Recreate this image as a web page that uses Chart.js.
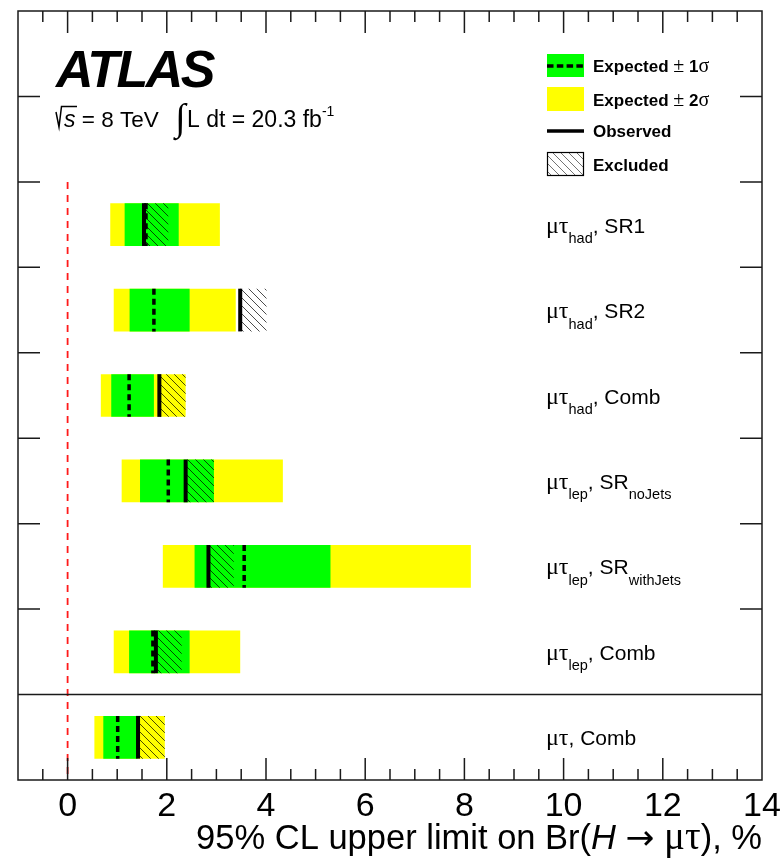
<!DOCTYPE html>
<html>
<head>
<meta charset="utf-8">
<script src="https://cdn.jsdelivr.net/npm/chart.js@4/dist/chart.umd.min.js"></script>
<style>
  html, body { margin: 0; padding: 0; background: #fff; }
  canvas { display: block; }
</style>
</head>
<body>
<canvas id="limits" width="782" height="863"></canvas>
<script>
/* ----- limits on Br(H -> mu tau), in % ----- */
const categories = [
  'μτ_{had}, SR1',
  'μτ_{had}, SR2',
  'μτ_{had}, Comb',
  'μτ_{lep}, SR_{noJets}',
  'μτ_{lep}, SR_{withJets}',
  'μτ_{lep}, Comb',
  'μτ, Comb'
];
const twoSigmaLow  = [0.86, 0.93, 0.67, 1.09, 1.92, 0.93, 0.54];
const twoSigmaHigh = [3.07, 3.39, 2.38, 4.34, 8.13, 3.48, 1.96];
const oneSigmaLow  = [1.15, 1.25, 0.88, 1.46, 2.56, 1.24, 0.72];
const oneSigmaHigh = [2.24, 2.46, 1.74, 2.95, 5.30, 2.46, 1.41];
const expected     = [1.58, 1.74, 1.24, 2.03, 3.56, 1.72, 1.01];
const observed     = [1.54, 3.48, 1.85, 2.38, 2.84, 1.78, 1.42];
const excludedEnd  = [2.03, 4.01, 2.38, 2.95, 3.35, 2.30, 1.96];
const xTickLabels  = [0, 2, 4, 6, 8, 10, 12, 14];
const xMin = -1, xMax = 14;

const SANS = '"Liberation Sans", Arial, Helvetica, sans-serif';
const SYMB = '"Liberation Serif", "DejaVu Serif", serif';
const ARROW = '"DejaVu Sans", sans-serif';

// two empty slots on top leave room for the ATLAS label and legend
const rows = ['', '', ...categories];
const lead = arr => [null, null, ...arr];
const span = (lo, hi) => lo.map((v, i) => [v, hi[i]]);

/* ----- hatch used for the excluded side ----- */
function hatchPattern(alpha) {
  const c = document.createElement('canvas');
  c.width = c.height = 8;
  const g = c.getContext('2d');
  g.strokeStyle = `rgba(0,0,0,${alpha})`;
  g.lineWidth = 1;
  g.beginPath();
  g.moveTo(-1, -1); g.lineTo(9, 9);
  g.moveTo(-1, 7); g.lineTo(1, 9);
  g.moveTo(7, -1); g.lineTo(9, 1);
  g.stroke();
  return g.createPattern(c, 'repeat');
}
const ctx = document.getElementById('limits').getContext('2d');
const hatch = hatchPattern(0.7);

/* ----- text with _{sub} / ^{sup} and greek symbols ----- */
function runsOf(str) {
  const runs = [];
  const re = /([_^])\{([^}]*)\}/g;
  let last = 0, m;
  while ((m = re.exec(str))) {
    if (m.index > last) runs.push({ text: str.slice(last, m.index), shift: 0 });
    runs.push({ text: m[2], shift: m[1] === '_' ? 1 : -1 });
    last = re.lastIndex;
  }
  if (last < str.length) runs.push({ text: str.slice(last), shift: 0 });
  return runs;
}
function fontFor(ch, size, o) {
  if (ch === '→') return `${size}px ${ARROW}`;
  if (/[μτσ±]/.test(ch)) return `${Math.round(size * (o.greekScale || 1.1))}px ${SYMB}`;
  const it = o.italic && o.italic.includes(ch) ? 'italic ' : '';
  return `${it}${o.weight || 'normal'} ${size}px ${SANS}`;
}
function richText(c, str, x, y, o, dry) {
  let cx = x;
  for (const run of runsOf(str)) {
    const size = run.shift ? o.subSize : o.size;
    const dy = run.shift > 0 ? o.subDrop : run.shift < 0 ? -o.supRise : 0;
    // group consecutive chars sharing a font
    let chunk = '', font = null;
    const flush = () => {
      if (!chunk) return;
      c.font = font;
      if (!dry) c.fillText(chunk, cx, y + dy);
      cx += c.measureText(chunk).width;
      chunk = '';
    };
    for (const ch of run.text) {
      const f = fontFor(ch, size, o);
      if (f !== font) { flush(); font = f; }
      chunk += ch;
    }
    flush();
  }
  return cx - x;
}

/* ----- frame, ticks, labels, legend ----- */
const decor = {
  id: 'decor',
  beforeDatasetsDraw(chart) {
    const c = chart.ctx, a = chart.chartArea;
    const xs = chart.scales.x, ys = chart.scales.y;
    const half = (ys.getPixelForValue(1) - ys.getPixelForValue(0)) / 2;
    const x0 = xs.getPixelForValue(0);
    c.save();
    c.strokeStyle = '#ff1a1a';
    c.lineWidth = 1.8;
    c.setLineDash([7, 6]);
    c.beginPath();
    c.moveTo(x0, ys.getPixelForValue(2) - half);
    c.lineTo(x0, a.bottom);
    c.stroke();
    c.restore();
  },
  afterDatasetsDraw(chart) {
    const c = chart.ctx, a = chart.chartArea;
    const xs = chart.scales.x, ys = chart.scales.y;
    const half = (ys.getPixelForValue(1) - ys.getPixelForValue(0)) / 2;
    const bars = chart.getDatasetMeta(0).data;
    c.save();

    // expected (dashed) and observed (solid) limits
    categories.forEach((_, i) => {
      const el = bars[i + 2];
      const top = el.y - el.height / 2, bot = el.y + el.height / 2;
      c.strokeStyle = '#000';
      c.lineWidth = 3.5;
      c.setLineDash([6, 4]);
      c.beginPath();
      c.moveTo(xs.getPixelForValue(expected[i]), top);
      c.lineTo(xs.getPixelForValue(expected[i]), bot);
      c.stroke();
      c.setLineDash([]);
      c.lineWidth = 4;
      c.beginPath();
      c.moveTo(xs.getPixelForValue(observed[i]), top);
      c.lineTo(xs.getPixelForValue(observed[i]), bot);
      c.stroke();
    });

    // frame
    c.strokeStyle = '#1a1a1a';
    c.lineWidth = 1.5;
    c.strokeRect(a.left, a.top, a.right - a.left, a.bottom - a.top);

    // x ticks, inside on top and bottom
    c.beginPath();
    for (let v = xMin + 0.5; v < xMax; v += 0.5) {
      const px = xs.getPixelForValue(v);
      const len = xTickLabels.includes(v) ? 22 : 11;
      c.moveTo(px, a.bottom); c.lineTo(px, a.bottom - len);
      c.moveTo(px, a.top); c.lineTo(px, a.top + len);
    }
    // y ticks between rows, and the separator above the combination
    for (let r = 1; r < rows.length - 1; r++) {
      const py = ys.getPixelForValue(r) - half;
      c.moveTo(a.left, py); c.lineTo(a.left + 22, py);
      c.moveTo(a.right, py); c.lineTo(a.right - 22, py);
    }
    const sep = ys.getPixelForValue(rows.length - 1) - half;
    c.moveTo(a.left, sep); c.lineTo(a.right, sep);
    c.stroke();

    // x tick labels and title
    c.fillStyle = '#000';
    c.textAlign = 'center';
    c.textBaseline = 'alphabetic';
    c.font = `34px ${SANS}`;
    xTickLabels.forEach(v => c.fillText(String(v), xs.getPixelForValue(v), 816));
    c.textAlign = 'left';
    const title = '95% CL upper limit on Br(H → μτ), %';
    const tOpt = { size: 34.5, italic: 'H', greekScale: 1.12 };
    const tw = richText(c, title, 0, 0, tOpt, true);
    richText(c, title, a.right - tw, 849, tOpt);

    // channel labels on the right
    const lOpt = { size: 21, subSize: 14.5, subDrop: 10.5, greekScale: 1.15 };
    categories.forEach((lab, i) => {
      richText(c, lab, 546, ys.getPixelForValue(i + 2) + 8, lOpt);
    });

    // ATLAS label
    c.font = `italic bold 52px ${SANS}`;
    c.letterSpacing = '-2.5px';
    c.fillText('ATLAS', 56, 87);
    c.letterSpacing = '0px';

    c.strokeStyle = '#000';
    c.lineWidth = 1.5;
    c.beginPath();
    c.moveTo(56, 112); c.lineTo(59, 127); c.lineTo(61.5, 106.5); c.lineTo(77, 106.5);
    c.stroke();
    c.font = `italic 23px ${SANS}`;
    c.fillText('s', 64, 126.5);
    const w = c.measureText('s').width;
    c.font = `22.5px ${SANS}`;
    c.fillText(' = 8 TeV', 64 + w, 126.5);
    c.font = `38px ${SYMB}`;
    c.fillText('∫', 175, 130);
    richText(c, 'L dt = 20.3 fb^{-1}', 187, 126.5, { size: 23, subSize: 14, supRise: 11 });

    // legend
    const lx = 547, lw = 37, bh = 23;
    c.fillStyle = chart.data.datasets[1].backgroundColor;
    c.fillRect(lx, 54, lw, bh);
    c.strokeStyle = '#000';
    c.lineWidth = 3.3;
    c.setLineDash([6.5, 3.3]);
    c.beginPath(); c.moveTo(lx, 66); c.lineTo(lx + lw, 66); c.stroke();
    c.setLineDash([]);
    c.fillStyle = chart.data.datasets[0].backgroundColor;
    c.fillRect(lx, 87, lw, bh + 1);
    c.lineWidth = 3.5;
    c.beginPath(); c.moveTo(lx, 131); c.lineTo(lx + lw, 131); c.stroke();
    c.fillStyle = hatchPattern(0.55);
    c.fillRect(lx, 152, lw, bh);
    c.lineWidth = 1.2;
    c.strokeRect(lx + 0.5, 152.5, lw - 1, bh);

    c.fillStyle = '#000';
    const gOpt = { size: 17, weight: 'bold', greekScale: 1.2 };
    richText(c, 'Expected ± 1σ', 593, 72, gOpt);
    richText(c, 'Expected ± 2σ', 593, 105.5, gOpt);
    richText(c, 'Observed', 593, 137, gOpt);
    richText(c, 'Excluded', 593, 170.5, gOpt);

    c.restore();
  }
};

new Chart(ctx, {
  type: 'bar',
  data: {
    labels: rows,
    datasets: [
      { label: 'Expected ± 2σ', data: lead(span(twoSigmaLow, twoSigmaHigh)), backgroundColor: '#ffff00', order: 3 },
      { label: 'Expected ± 1σ', data: lead(span(oneSigmaLow, oneSigmaHigh)), backgroundColor: '#00ff00', order: 2 },
      { label: 'Excluded', data: lead(span(observed, excludedEnd)), backgroundColor: hatch, order: 1 }
    ]
  },
  options: {
    indexAxis: 'y',
    responsive: false,
    animation: false,
    devicePixelRatio: 1,
    layout: { padding: { left: 18, right: 20, top: 11, bottom: 83 } },
    datasets: { bar: { grouped: false, barPercentage: 0.5, categoryPercentage: 1, borderWidth: 0 } },
    scales: {
      x: { type: 'linear', min: xMin, max: xMax, display: false },
      y: { type: 'category', offset: true, display: false }
    },
    plugins: { legend: { display: false }, tooltip: { enabled: false } }
  },
  plugins: [decor]
});
</script>
</body>
</html>
